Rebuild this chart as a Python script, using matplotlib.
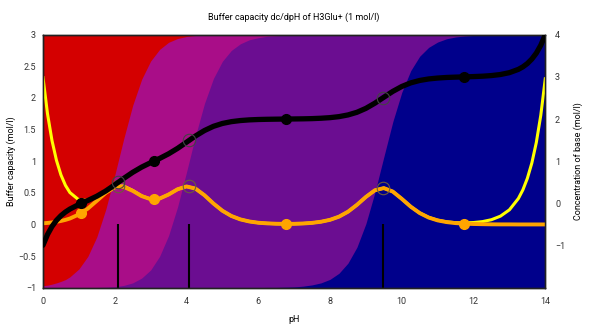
import numpy as np
import matplotlib
matplotlib.use("Agg")
import matplotlib.pyplot as plt

plt.rcParams['font.family'] = ['Roboto', 'DejaVu Sans']

# pH grid (finer near the ends where the water term is steep)
ph = [0, 0.125, 0.25, 0.375, 0.5, 0.625, 0.75, 1.0, 1.25, 1.5, 1.75, 2.0, 2.25, 2.5, 2.75,
      3.0, 3.25, 3.5, 3.75, 4.0, 4.25, 4.5, 4.75, 5.0, 5.25, 5.5, 5.75, 6.0, 6.25, 6.5, 6.75,
      7.0, 7.25, 7.5, 7.75, 8.0, 8.25, 8.5, 8.75, 9.0, 9.25, 9.5, 9.75, 10.0, 10.25, 10.5,
      10.75, 11.0, 11.25, 11.5, 11.75, 12.0, 12.25, 12.5, 12.75, 13.0, 13.25, 13.375, 13.5,
      13.625, 13.75, 13.875, 14.0]

# species fractions H3Glu+, H2Glu, HGlu-, Glu2-
frac_h3glu = [0.992, 0.990, 0.986, 0.981, 0.975, 0.968, 0.957, 0.926, 0.876, 0.799, 0.690, 0.555,
              0.411, 0.279, 0.176, 0.104, 0.058, 0.030, 0.015, 0.007, 0.003, 0.001, 0, 0, 0, 0,
              0, 0, 0, 0, 0, 0, 0, 0, 0, 0, 0, 0, 0, 0, 0, 0, 0, 0, 0, 0, 0, 0, 0, 0, 0, 0, 0,
              0, 0, 0, 0, 0, 0, 0, 0, 0, 0]
frac_h2glu = [0.008, 0.010, 0.014, 0.019, 0.025, 0.032, 0.043, 0.074, 0.124, 0.200, 0.308, 0.441,
              0.580, 0.702, 0.786, 0.826, 0.818, 0.764, 0.666, 0.536, 0.397, 0.271, 0.173, 0.105,
              0.062, 0.036, 0.020, 0.012, 0.006, 0.004, 0.002, 0.001, 0.001, 0, 0, 0, 0, 0, 0, 0,
              0, 0, 0, 0, 0, 0, 0, 0, 0, 0, 0, 0, 0, 0, 0, 0, 0, 0, 0, 0, 0, 0, 0]
frac_hglu = [0, 0, 0, 0, 0, 0, 0, 0, 0, 0.001, 0.002, 0.004, 0.009, 0.019, 0.038, 0.070, 0.124,
             0.206, 0.319, 0.457, 0.600, 0.728, 0.827, 0.895, 0.938, 0.964, 0.980, 0.988, 0.993,
             0.995, 0.996, 0.996, 0.993, 0.989, 0.981, 0.967, 0.943, 0.903, 0.840, 0.747, 0.624,
             0.483, 0.344, 0.228, 0.142, 0.085, 0.050, 0.029, 0.016, 0.009, 0.005, 0.003, 0.002,
             0.001, 0.001, 0, 0, 0, 0, 0, 0, 0, 0]
frac_glu = [0, 0, 0, 0, 0, 0, 0, 0, 0, 0, 0, 0, 0, 0, 0, 0, 0, 0, 0, 0, 0, 0, 0, 0, 0, 0, 0, 0,
            0.001, 0.001, 0.002, 0.003, 0.006, 0.011, 0.019, 0.033, 0.057, 0.097, 0.160, 0.253,
            0.376, 0.517, 0.656, 0.772, 0.858, 0.915, 0.950, 0.971, 0.984, 0.991, 0.995, 0.997,
            0.998, 0.999, 0.999, 1, 1, 1, 1, 1, 1, 1, 1]

# concentration of base (right axis)
base_conc = [-0.992, -0.739, -0.548, -0.403, -0.292, -0.205, -0.135, -0.026, 0.068, 0.170, 0.294,
             0.439, 0.592, 0.736, 0.860, 0.965, 1.065, 1.175, 1.304, 1.450, 1.598, 1.727, 1.827,
             1.895, 1.938, 1.964, 1.980, 1.989, 1.994, 1.997, 2.000, 2.002, 2.005, 2.010, 2.019,
             2.033, 2.057, 2.097, 2.160, 2.253, 2.376, 2.517, 2.656, 2.772, 2.858, 2.915, 2.951,
             2.972, 2.986, 2.994, 3.000, 3.007, 3.016, 3.031, 3.056, 3.100, 3.178, 3.237, 3.316,
             3.422, 3.562, 3.750, 4.000]

# buffer capacity of the acid alone and including water
beta_acid = [0.018, 0.024, 0.032, 0.042, 0.055, 0.072, 0.094, 0.158, 0.251, 0.374, 0.500, 0.587,
             0.594, 0.531, 0.448, 0.399, 0.409, 0.473, 0.556, 0.601, 0.567, 0.462, 0.331, 0.217,
             0.134, 0.080, 0.047, 0.027, 0.017, 0.011, 0.009, 0.010, 0.015, 0.025, 0.043, 0.073,
             0.123, 0.201, 0.310, 0.435, 0.540, 0.575, 0.520, 0.405, 0.281, 0.180, 0.109, 0.064,
             0.037, 0.021, 0.012, 0.007, 0.004, 0.002, 0.001, 0.001, 0, 0, 0, 0, 0, 0, 0]
beta_total = [2.321, 1.751, 1.327, 1.013, 0.783, 0.618, 0.504, 0.388, 0.381, 0.446, 0.541, 0.610,
              0.607, 0.538, 0.452, 0.401, 0.410, 0.473, 0.556, 0.601, 0.567, 0.462, 0.331, 0.217,
              0.134, 0.080, 0.047, 0.027, 0.017, 0.011, 0.009, 0.010, 0.015, 0.025, 0.043, 0.073,
              0.123, 0.201, 0.310, 0.435, 0.540, 0.575, 0.520, 0.405, 0.281, 0.181, 0.111, 0.067,
              0.041, 0.028, 0.025, 0.030, 0.045, 0.075, 0.131, 0.231, 0.410, 0.546, 0.728, 0.971,
              1.295, 1.727, 2.303]

pka = [2.10, 4.07, 9.47]
half_base = [0.5, 1.5, 2.5]
half_beta = [0.600, 0.601, 0.576]
eq_ph = [1.05, 3.085, 6.77, 11.735]
eq_base = [0, 1, 2, 3]
eq_beta = [0.174, 0.399, 0.009, 0.012]

species_colors = ['#d40000', '#a90d88', '#6b0d91', '#00008b']

fig, ax = plt.subplots(figsize=(5.9, 3.25), dpi=100)
fig.subplots_adjust(left=0.0729, right=0.9242, bottom=0.1148, top=0.8932)

ymin, ymax = -1, 3
# stacked fractions from the top of the plot downwards; each band is drawn down to
# the bottom so the later one covers it and no seams show
fracs = np.array([frac_h3glu, frac_h2glu, frac_hglu, frac_glu])
cum = np.vstack([np.zeros(len(ph)), np.cumsum(fracs, axis=0)])
levels = ymax - (ymax - ymin) * cum
for i, col in enumerate(species_colors):
    ax.fill_between(ph, levels[i], ymin - 0.1, color=col, lw=0, zorder=0)

ax.vlines(pka, ymin, 0, color='black', lw=1.5, zorder=2)
ax.plot(ph, beta_total, color='#ffff00', lw=2.2, zorder=3)
ax.plot(ph, beta_acid, color='#ffa500', lw=2.8, zorder=4)
ax.plot(eq_ph, eq_beta, 'o', color='#ffa500', ms=7, zorder=5)
ax.plot(pka, half_beta, 'o', mfc='none', mec='#6e5a3c', ms=9, mew=0.8, zorder=5)

ax.set_xlim(0, 14)
ax.set_ylim(ymin, ymax)
ax.set_xticks(range(0, 15, 2))
ax.set_yticks(np.arange(-1, 3.01, 0.5))
ax.yaxis.set_major_formatter(matplotlib.ticker.StrMethodFormatter('{x:g}'))

ax2 = ax.twinx()
ax2.plot(ph, base_conc, color='black', lw=3.8, solid_capstyle='round', zorder=3)
ax2.plot(eq_ph, eq_base, 'o', color='black', ms=7, zorder=4)
ax2.plot(pka, half_base, 'o', mfc='none', mec='#444444', ms=9, mew=0.8, zorder=4)
ax2.set_ylim(-2, 4)
ax2.set_yticks([-1, 0, 1, 2, 3, 4])

for a in (ax, ax2):
    a.tick_params(length=0, labelsize=6.5, colors='#333333', pad=5)
    for s in a.spines.values():
        s.set_color('#222222')
        s.set_linewidth(1)
ax.tick_params(axis='x', pad=7)
ax2.tick_params(axis='y', pad=7)

ax.set_title('Buffer capacity dc/dpH of H3Glu+ (1 mol/l)', fontsize=6.5, pad=11)
ax.set_xlabel('pH', fontsize=6.5, labelpad=6)
ax.set_ylabel('Buffer capacity (mol/l)', fontsize=6.5, labelpad=2)
ax2.set_ylabel('Concentration of base (mol/l)', fontsize=6.5, labelpad=6)

fig.savefig('out.png', dpi=100)
